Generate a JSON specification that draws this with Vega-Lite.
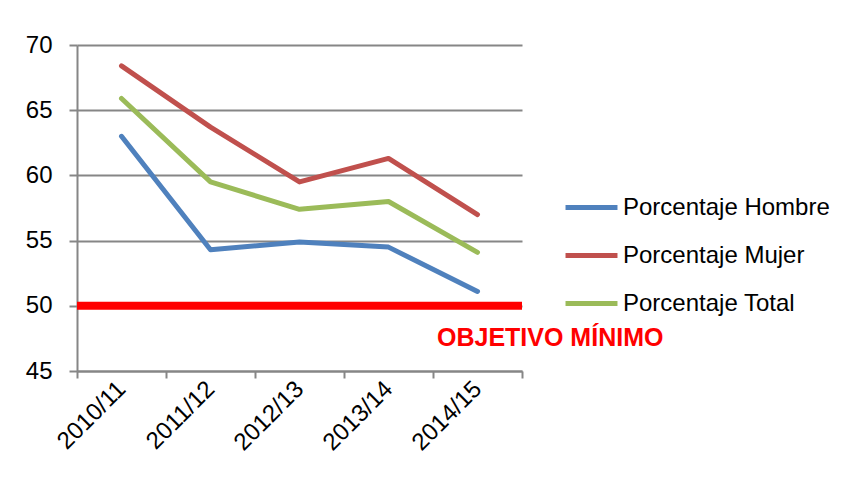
{
  "$schema": "https://vega.github.io/schema/vega-lite/v6.json",
  "width": 445,
  "height": 326,
  "autosize": {"type": "none"},
  "padding": {"left": 77, "top": 45, "right": 324, "bottom": 113},
  "background": "white",
  "config": {
    "view": {"stroke": null},
    "font": "Liberation Sans"
  },
  "datasets": {
    "series": [
      {"curso": "2010/11", "serie": "Porcentaje Hombre", "valor": 63.0},
      {"curso": "2011/12", "serie": "Porcentaje Hombre", "valor": 54.3},
      {"curso": "2012/13", "serie": "Porcentaje Hombre", "valor": 54.9},
      {"curso": "2013/14", "serie": "Porcentaje Hombre", "valor": 54.5},
      {"curso": "2014/15", "serie": "Porcentaje Hombre", "valor": 51.1},
      {"curso": "2010/11", "serie": "Porcentaje Mujer", "valor": 68.4},
      {"curso": "2011/12", "serie": "Porcentaje Mujer", "valor": 63.7},
      {"curso": "2012/13", "serie": "Porcentaje Mujer", "valor": 59.5},
      {"curso": "2013/14", "serie": "Porcentaje Mujer", "valor": 61.3},
      {"curso": "2014/15", "serie": "Porcentaje Mujer", "valor": 57.0},
      {"curso": "2010/11", "serie": "Porcentaje Total", "valor": 65.9},
      {"curso": "2011/12", "serie": "Porcentaje Total", "valor": 59.5},
      {"curso": "2012/13", "serie": "Porcentaje Total", "valor": 57.4},
      {"curso": "2013/14", "serie": "Porcentaje Total", "valor": 58.0},
      {"curso": "2014/15", "serie": "Porcentaje Total", "valor": 54.1}
    ],
    "objetivo": [{"curso": "2014/15", "valor": 50, "etiqueta": "OBJETIVO MÍNIMO", "ypos": 47.5}]
  },
  "layer": [
    {
      "data": {"name": "series"},
      "mark": {"type": "line", "strokeWidth": 5, "strokeCap": "round", "strokeJoin": "round"},
      "encoding": {
        "x": {
          "field": "curso", "type": "nominal", "sort": null,
          "scale": {"type": "band", "paddingInner": 0, "paddingOuter": 0},
          "axis": {
            "title": null, "labelAngle": -45, "labelFontSize": 24, "labelColor": "black",
            "labelAlign": "right", "labelBaseline": "middle", "labelPadding": 7,
            "tickBand": "extent", "tickColor": "#868686", "tickWidth": 2, "tickSize": 7,
            "domainColor": "#868686", "domainWidth": 2, "grid": false
          }
        },
        "y": {
          "field": "valor", "type": "quantitative",
          "scale": {"domain": [45, 70], "nice": false, "zero": false},
          "axis": {
            "title": null, "values": [45, 50, 55, 60, 65, 70], "labelFontSize": 24, "labelColor": "black",
            "labelPadding": 17, "tickColor": "#868686", "tickWidth": 2, "tickSize": 8,
            "domainColor": "#868686", "domainWidth": 2,
            "grid": true, "gridColor": "#868686", "gridWidth": 2
          }
        },
        "color": {
          "field": "serie", "type": "nominal",
          "scale": {"domain": ["Porcentaje Hombre", "Porcentaje Mujer", "Porcentaje Total"], "range": ["#4F81BD", "#C0504D", "#9BBB59"]},
          "legend": {
            "title": null, "orient": "none", "legendX": 486, "legendY": 134,
            "symbolType": "stroke", "symbolSize": 2700, "symbolStrokeWidth": 5,
            "labelFontSize": 24, "labelColor": "black", "rowPadding": 7, "labelOffset": 3,
            "labelLimit": 400
          }
        }
      }
    },
    {
      "data": {"name": "objetivo"},
      "mark": {"type": "rule", "color": "#FF0000", "strokeWidth": 8},
      "encoding": {"y": {"field": "valor", "type": "quantitative"}}
    },
    {
      "data": {"name": "objetivo"},
      "mark": {"type": "text", "color": "#FF0000", "fontWeight": "bold", "fontSize": 25, "align": "left", "baseline": "middle", "dx": 4},
      "encoding": {
        "x": {"field": "curso", "type": "nominal", "bandPosition": 0},
        "y": {"field": "ypos", "type": "quantitative"},
        "text": {"field": "etiqueta"}
      }
    }
  ]
}
